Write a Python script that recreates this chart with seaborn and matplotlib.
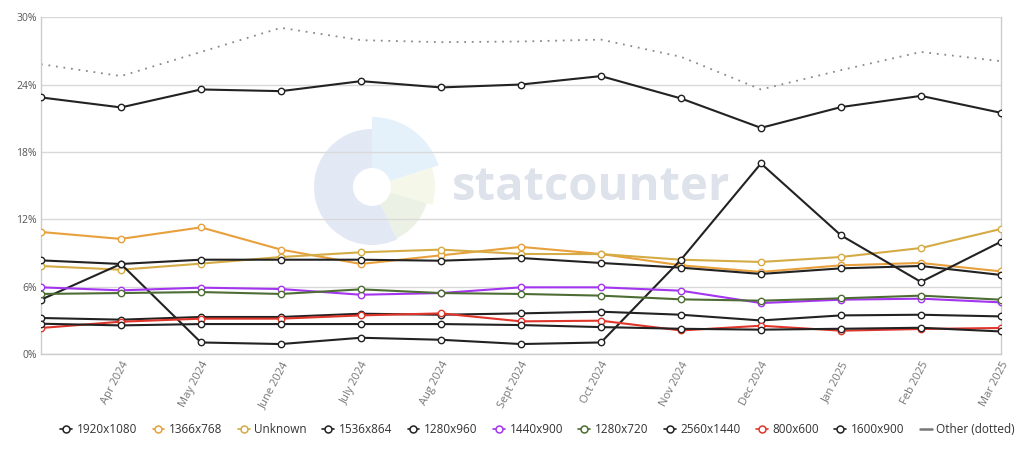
import matplotlib
matplotlib.use("Agg")
import matplotlib.pyplot as plt
import seaborn as sns
import pandas as pd
import numpy as np
from matplotlib.lines import Line2D
from matplotlib.patches import Wedge

months = ["Mar 2024", "Apr 2024", "May 2024", "June 2024", "July 2024", "Aug 2024",
          "Sept 2024", "Oct 2024", "Nov 2024", "Dec 2024", "Jan 2025", "Feb 2025", "Mar 2025"]

r1920x1080 = [22.85, 21.96, 23.56, 23.41, 24.30, 23.74, 24.00, 24.75, 22.76, 20.14, 21.99, 22.99, 21.48]
r1366x768 = [10.87, 10.25, 11.28, 9.30, 8.02, 8.79, 9.54, 8.91, 7.90, 7.31, 7.90, 8.11, 7.36]
unknown = [7.84, 7.51, 8.05, 8.64, 9.06, 9.30, 8.91, 8.90, 8.40, 8.20, 8.64, 9.44, 11.14]
r1536x864 = [8.34, 8.02, 8.40, 8.40, 8.40, 8.31, 8.55, 8.11, 7.69, 7.13, 7.63, 7.84, 7.04]
r1280x960 = [4.84, 8.02, 1.03, 0.89, 1.45, 1.27, 0.89, 1.03, 8.40, 16.97, 10.57, 6.42, 10.00]
r1440x900 = [5.94, 5.67, 5.91, 5.79, 5.28, 5.43, 5.94, 5.94, 5.64, 4.54, 4.84, 4.93, 4.60]
r1280x720 = [5.35, 5.43, 5.52, 5.35, 5.76, 5.43, 5.35, 5.20, 4.87, 4.75, 4.96, 5.20, 4.84]
r2560x1440 = [3.21, 3.06, 3.30, 3.30, 3.59, 3.50, 3.62, 3.77, 3.50, 2.99, 3.44, 3.50, 3.35]
r800x600 = [2.32, 2.88, 3.15, 3.15, 3.44, 3.62, 2.91, 2.97, 2.10, 2.52, 2.08, 2.23, 2.32]
r1600x900 = [2.70, 2.55, 2.67, 2.67, 2.67, 2.67, 2.58, 2.40, 2.25, 2.17, 2.25, 2.34, 2.01]
other = [25.81, 24.75, 26.90, 29.05, 27.95, 27.77, 27.83, 28.00, 26.47, 23.56, 25.28, 26.90, 26.08]

series_names = ["1920x1080", "1366x768", "Unknown", "1536x864", "1280x960", "1440x900",
                "1280x720", "2560x1440", "800x600", "1600x900"]
series_values = [r1920x1080, r1366x768, unknown, r1536x864, r1280x960, r1440x900,
                 r1280x720, r2560x1440, r800x600, r1600x900]
colors = ["#222222", "#e8a03c", "#d4ab45", "#222222", "#222222", "#a335ee",
          "#4e6d34", "#222222", "#e0352b", "#222222"]
y_ticks = [0, 6, 12, 18, 24, 30]

sns.set_theme(style="white")
plt.rcParams['font.family'] = ['Open Sans', 'DejaVu Sans']

fig = plt.figure(figsize=(10.24, 4.51), dpi=100)

# watermark logo (pixel coordinates, y downward -> angles negated)
lax = fig.add_axes([0, 0, 1, 1], zorder=0)
lax.set_xlim(0, 1024); lax.set_ylim(451, 0); lax.axis('off')
c = (372, 187)
def wedge(r, a1, a2, w, col):
    lax.add_patch(Wedge(c, r, -a2, -a1, width=w, facecolor=col, edgecolor='none'))
wedge(58, 90, 296, 39, "#e2e9f5")
wedge(70, 18, 90, 51, "#e5f1fa")
wedge(63, -16.5, 18, 44, "#f5f8e9")
wedge(57, -64, -16.5, 38, "#ebf2e5")
lax.text(452, 200, "statcounter", fontsize=34, fontweight='bold', color="#dde2eb",
         ha='left', va='baseline', family=['Open Sans', 'DejaVu Sans'])

ax = fig.add_axes([0.040, 0.215, 0.9375, 0.747], zorder=1)
ax.patch.set_alpha(0)

x = np.arange(len(months))
df_other = pd.DataFrame({"x": x, "v": other})
sns.lineplot(data=df_other, x="x", y="v", ax=ax, color="#8a8a8a", linestyle=(0, (1, 3.2)),
             linewidth=1.3, zorder=2)
for name, vals, col in zip(series_names, series_values, colors):
    d = pd.DataFrame({"x": x, "v": vals})
    sns.lineplot(data=d, x="x", y="v", ax=ax, color=col, linewidth=1.5, marker='o',
                 markersize=4.6, markerfacecolor='white', markeredgecolor=col,
                 markeredgewidth=1.0, zorder=3)

ax.set_xlim(0, len(months) - 1)
ax.set_ylim(0, 30)
ax.set_yticks(y_ticks)
ax.set_yticklabels([f"{t}%" for t in y_ticks], fontsize=7.5, color="#555555")
ax.set_xticks(x[1:])
ax.set_xticklabels(months[1:], rotation=62, ha='right', rotation_mode='anchor',
                   fontsize=8, color="#777777")
ax.tick_params(axis='x', pad=4, length=0)
ax.tick_params(axis='y', pad=3, length=0)
ax.set_xlabel(""); ax.set_ylabel("")
ax.grid(axis='y', color="#d9d9d9", linewidth=1)
for s in ax.spines.values():
    s.set_color("#cccccc"); s.set_linewidth(1)
ax.spines['top'].set_visible(False)

handles = []
for name, col in zip(series_names, colors):
    handles.append(Line2D([0], [0], color=col, linewidth=1.2, marker='o', markersize=5,
                          markerfacecolor='white', markeredgecolor=col, markeredgewidth=1.1,
                          label=name))
handles.append(Line2D([0], [0], color="#777777", linewidth=1.8, label="Other (dotted)"))
fig.legend(handles=handles, loc='center', bbox_to_anchor=(0.525, 0.048), ncol=11,
           frameon=False, fontsize=8.5, handlelength=1.0, handletextpad=0.4,
           columnspacing=1.3, labelcolor="#333333")

fig.savefig("out.png", dpi=100)
